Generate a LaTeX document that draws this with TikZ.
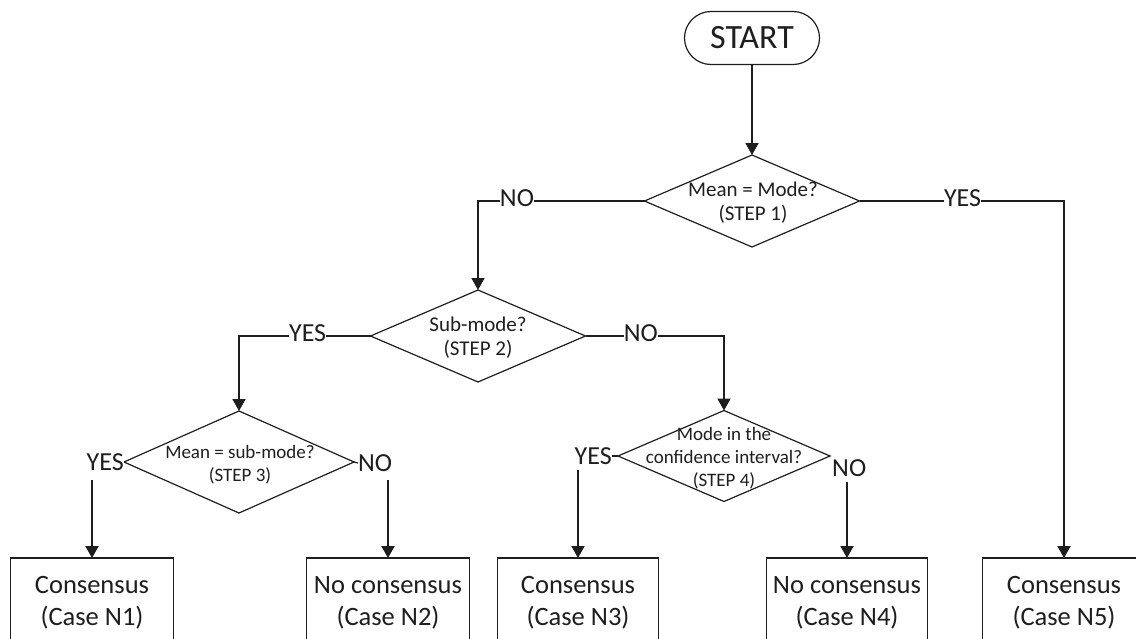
\documentclass[tikz,border=0pt]{standalone}
\usepackage{fontspec}
\setmainfont{Carlito}
\usetikzlibrary{shapes.geometric,arrows.meta,calc}
\definecolor{ink}{HTML}{1E1E1E}
\begin{document}
\begin{tikzpicture}[x=1pt,y=-1pt,
  dia/.style={diamond, draw=ink, line width=1.2pt, inner sep=0pt, outer sep=0pt},
  dtext/.style={align=center, font=\fontsize{19}{23}\selectfont, text=ink, inner sep=0pt},
  box/.style={rectangle, draw=ink, line width=1.3pt, minimum width=163pt, minimum height=90pt,
    align=center, font=\fontsize{26.5}{32}\selectfont, text=ink, inner sep=0pt, outer sep=0pt},
  lbl/.style={font=\fontsize{26}{30}\selectfont, text=ink, inner sep=0pt, fill=white},
  conn/.style={draw=ink, line width=1.8pt},
  arr/.style={conn, -{Triangle[width=13pt,length=12pt]}},
]
\useasboundingbox (0,0) rectangle (1136,638);

% start
\node[draw=ink, line width=1.2pt, rounded corners=26.5pt, minimum width=135pt, minimum height=53pt,
  font=\fontsize{34}{36}\selectfont, text=ink, inner sep=0pt, outer sep=0pt] (start) at (752,38) {START};

% decisions
\node[dia, minimum width=215pt, minimum height=92pt] (d1) at (752,201) {};
\node[dtext, font=\fontsize{21}{24}\selectfont] (t1) at (753,203) {Mean = Mode?\\(STEP 1)};

\node[dia, minimum width=215pt, minimum height=92pt] (d2) at (478,336) {};
\node[dtext, font=\fontsize{21}{24}\selectfont] (t2) at (478,338) {Sub-mode?\\(STEP 2)};

\node[dia, minimum width=230pt, minimum height=102pt] (d3) at (239,462) {};
\node[dtext] (t3) at (240,465) {Mean = sub-mode?\\(STEP 3)};

\node[dia, minimum width=212pt, minimum height=91pt] (d4) at (724,456) {};
\node[dtext] (t4) at (724,458) {Mode in the\\confidence interval?\\(STEP 4)};

% outcomes
\node[box] (b1) at (92,603) {Consensus\\(Case N1)};
\node[box] (b2) at (388,603) {No consensus\\(Case N2)};
\node[box, minimum width=161pt] (b3) at (578,603) {Consensus\\(Case N3)};
\node[box, minimum width=161pt] (b4) at (847,603) {No consensus\\(Case N4)};
\node[box] (b5) at (1064,603) {Consensus\\(Case N5)};

% connectors
\draw[arr] (start) -- (d1.north);
\draw[arr] (d1.west) -| node[lbl, pos=0.383, yshift=3pt] (no1) {NO} (d2.north);
\draw[arr] (d1.east) -| node[lbl, pos=0.252, yshift=3pt] (yes1) {YES} (b5.north);
\draw[arr] (d2.west) -| node[lbl, pos=0.239, yshift=3pt] (yes2) {YES} (d3.north);
\draw[arr] (d2.east) -| node[lbl, pos=0.2, yshift=3pt] (no2) {NO} (d4.north);

% step 3 branches
\node[lbl, anchor=east] (yes3) at (d3.west) {YES};
\node[lbl, anchor=west] (no3) at ($(d3.east)+(4,1)$) {NO};
\draw[conn, line width=1.2pt] (d3.east) -- (no3.west);
\coordinate (s1) at ($(b1.north)+(0,-78)$);
\coordinate (s2) at ($(b2.north)+(0,-78)$);
\draw[arr] (s1) -- (b1.north);
\draw[arr] (s2) -- (b2.north);

% step 4 branches
\node[lbl, anchor=east] (yes4) at ($(d4.west)+(-6,0)$) {YES};
\draw[conn, line width=1.2pt] (d4.west) -- (yes4.east);
\node[lbl, anchor=north west, fill=none] (no4) at ($(d4.east)+(2,3)$) {NO};
\coordinate (s3) at ($(b3.north)+(0,-88)$);
\coordinate (s4) at ($(b4.north)+(0,-76)$);
\draw[arr] (s3) -- (b3.north);
\draw[arr] (s4) -- (b4.north);
\end{tikzpicture}
\end{document}
